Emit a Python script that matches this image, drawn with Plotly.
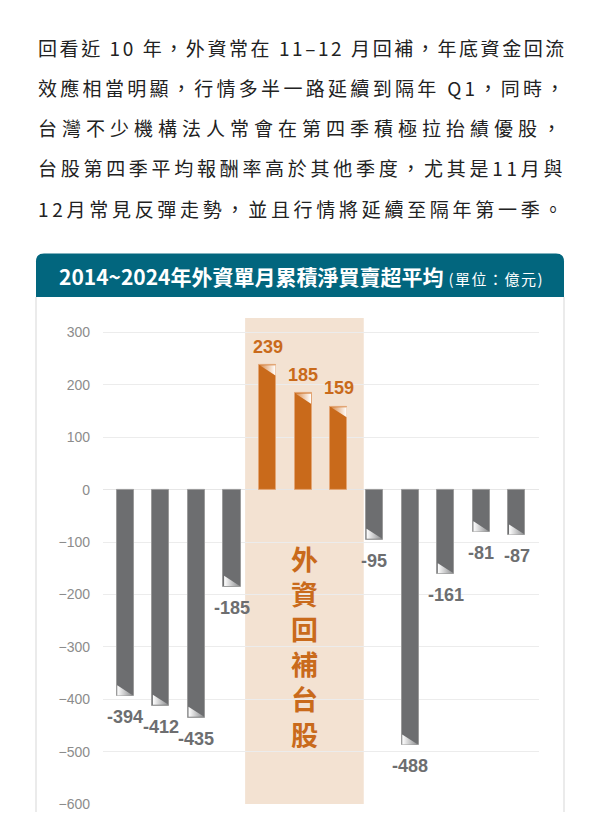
import plotly.graph_objects as go

# ---------------- data ----------------
months = ["7月", "8月", "9月", "10月", "11月", "12月", "1月", "2月", "3月", "4月", "5月", "6月"]
net_values = [-394, -412, -435, -185, 239, 185, 159, -95, -488, -161, -81, -87]
y_ticks = [300, 200, 100, 0, -100, -200, -300, -400, -500, -600]

paragraph_lines = [
    "回看近 10 年，外資常在 11–12 月回補，年底資金回流",
    "效應相當明顯，行情多半一路延續到隔年 Q1，同時，",
    "台灣不少機構法人常會在第四季積極拉抬績優股，",
    "台股第四季平均報酬率高於其他季度，尤其是11月與",
    "12月常見反彈走勢，並且行情將延續至隔年第一季。",
]
chart_title = "2014~2024年外資單月累積淨買賣超平均"
unit_text = "(單位：億元)"
highlight_text = "外資回補台股"

# ---------------- styling ----------------
OFF = 8                      # page body margin
W, H = 600 - OFF, 836 - 3 * OFF
GRAY = "#6d6e70"
GRAY_EDGE = "#9b9b9b"
ORANGE = "#c96a1b"
ORANGE_EDGE = "#e3a574"
TEAL = "#02667e"
HILITE = "#f3e2d2"
CJK = "Noto Sans CJK TC"
NUM = "Liberation Sans, Arial, sans-serif"

X_L, X_R = 103, 539       # plot area pixels (page coords)
Y_T, Y_B = 321, 812
Y_MIN, Y_MAX = -600, 328
X_MIN, X_MAX = -0.62, 11.62
PX_PER_UNIT = (Y_B - Y_T) / (Y_MAX - Y_MIN)


def px(x):
    return (x - OFF) / W


def py(y):
    return 1 - (y - OFF) / H


def y_of(v):
    """page pixel of a data value on the y axis"""
    return Y_T + (Y_MAX - v) * PX_PER_UNIT


idx = list(range(len(net_values)))
bar_w = 0.48
colors = [ORANGE if v > 0 else GRAY for v in net_values]
edges = [ORANGE_EDGE if v > 0 else GRAY_EDGE for v in net_values]

fig = go.Figure()
fig.add_trace(go.Bar(
    x=idx, y=net_values, width=bar_w,
    marker=dict(color=colors, line=dict(color=edges, width=1)),
    hoverinfo="skip",
))

# small shaded corner at each bar end (derived from the values)
tri_h = 11 / PX_PER_UNIT
hw = bar_w / 2 - 0.02
for i, v in zip(idx, net_values):
    if v < 0:
        xs = [i - hw, i + hw, i - hw, i - hw]
        ys = [v + 1.5, v + 1.5, v + tri_h, v + 1.5]
        cs = [[0, "#ffffff"], [1, "#8a8b8d"]]
    else:
        xs = [i - hw, i + hw, i + hw, i - hw]
        ys = [v - 1.5, v - 1.5, v - tri_h, v - 1.5]
        cs = [[0, "#d98a4a"], [1, "#ffffff"]]
    fig.add_trace(go.Scatter(
        x=xs, y=ys, mode="lines", line=dict(width=0),
        fill="toself",
        fillgradient=dict(type="horizontal", colorscale=cs),
        hoverinfo="skip",
    ))

annotations = []
# value labels
for i, v in zip(idx, net_values):
    annotations.append(dict(
        x=i, y=v, xref="x", yref="y", text=f"<b>{v}</b>", showarrow=False,
        xanchor="center", yanchor="top" if v < 0 else "bottom",
        yshift=-9 if v < 0 else 6,
        font=dict(family=NUM, size=18, color=GRAY if v < 0 else ORANGE),
    ))

# paragraph
line_centers = [48, 88.5, 129, 169.5, 210]
FS = 19
target_w = 528


def natural_width(s, fs):
    w = 0
    for ch in s:
        if ord(ch) > 0x2E80:
            w += fs
        elif ch == " ":
            w += 0.23 * fs
        elif ch.isdigit():
            w += 0.55 * fs
        elif ch == "–":
            w += 0.5 * fs
        else:
            w += 0.65 * fs
    return w


for line, cy in zip(paragraph_lines, line_centers):
    ls = (target_w - natural_width(line, FS)) / len(line)
    annotations.append(dict(
        x=px(36), y=py(cy), xref="paper", yref="paper",
        text=f'<span style="letter-spacing:{ls:.2f}px">{line}</span>',
        showarrow=False, xanchor="left", yanchor="middle",
        font=dict(family=CJK, size=FS, color="#222222"),
    ))

# title
annotations.append(dict(
    x=px(57), y=py(279), xref="paper", yref="paper",
    text=(f"<b>{chart_title}</b>"
          f"<span style='font-size:15px;letter-spacing:1.5px'> {unit_text}</span>"),
    showarrow=False, xanchor="left", yanchor="middle",
    font=dict(family=CJK, size=21, color="#ffffff"),
))

# vertical highlight text
annotations.append(dict(
    x=px(304), y=py(y_of(-299)), xref="paper", yref="paper",
    text="<br>".join(f"<b>{c}</b>" for c in highlight_text),
    showarrow=False, xanchor="center", yanchor="middle", borderpad=0,
    font=dict(family=CJK, size=27, color=ORANGE),
))

r = 8
L, R, T, B = px(36), px(564), py(256), py(300)
rx, ry = r / W, r / H
header_path = (f"M {L},{B} L {L},{T - ry} Q {L},{T} {L + rx},{T} "
               f"L {R - rx},{T} Q {R},{T} {R},{T - ry} L {R},{B} Z")

shapes = [
    dict(type="path", path=header_path, xref="paper", yref="paper",
         fillcolor=TEAL, line=dict(width=0), layer="above"),
    dict(type="line", xref="paper", yref="paper", x0=px(36), x1=px(36),
         y0=py(300), y1=0, line=dict(color="#dedede", width=1.2)),
    dict(type="line", xref="paper", yref="paper", x0=px(564), x1=px(564),
         y0=py(300), y1=0, line=dict(color="#dedede", width=1.2)),
    dict(type="rect", xref="x", yref="y", x0=3.37, x1=6.7, y0=-600, y1=328,
         fillcolor=HILITE, line=dict(width=0), layer="below"),
]

fig.update_layout(
    width=W, height=H,
    margin=dict(l=0, r=0, t=0, b=0),
    paper_bgcolor="white", plot_bgcolor="rgba(0,0,0,0)",
    showlegend=False,
    bargap=0,
    annotations=annotations,
    shapes=shapes,
    xaxis=dict(
        domain=[px(X_L), px(X_R)], range=[X_MIN, X_MAX],
        tickvals=idx, ticktext=months, showticklabels=False,
        showgrid=False, zeroline=False, showline=False, fixedrange=True,
    ),
    yaxis=dict(
        domain=[py(Y_B), py(Y_T)], range=[Y_MIN, Y_MAX],
        tickvals=y_ticks, ticks="", ticklabelstandoff=12,
        tickfont=dict(family=NUM, size=14, color="#8c8c8c"),
        showgrid=True, gridcolor="#ececec", gridwidth=1,
        zeroline=True, zerolinecolor="#e6e6e6", zerolinewidth=1,
        showline=False, fixedrange=True,
    ),
)

fig.write_html("out.html")
